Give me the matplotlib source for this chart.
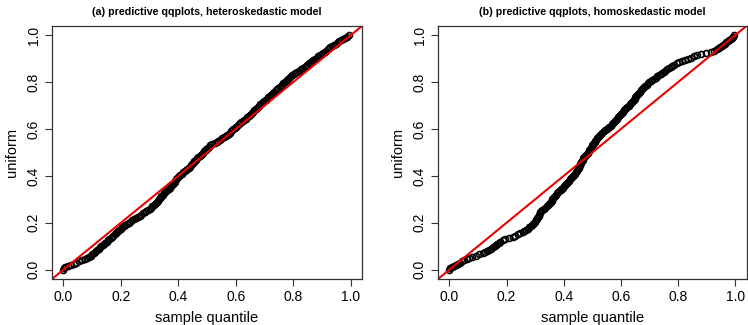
import numpy as np
import matplotlib
matplotlib.use("Agg")
import matplotlib.pyplot as plt

plt.rcParams['font.family'] = ['Liberation Sans', 'DejaVu Sans']

# uniform quantile levels (y axis), shared by both panels
unif = [0.000, 0.005, 0.010, 0.015, 0.020, 0.025, 0.030, 0.035, 0.040, 0.045,
        0.050, 0.055, 0.060, 0.065, 0.070, 0.075, 0.080, 0.085, 0.090, 0.095,
        0.100, 0.105, 0.110, 0.115, 0.120, 0.125, 0.130, 0.135, 0.140, 0.145,
        0.150, 0.155, 0.160, 0.165, 0.170, 0.175, 0.180, 0.185, 0.190, 0.195,
        0.200, 0.205, 0.210, 0.215, 0.220, 0.225, 0.230, 0.235, 0.240, 0.245,
        0.250, 0.255, 0.260, 0.265, 0.270, 0.275, 0.280, 0.285, 0.290, 0.295,
        0.300, 0.305, 0.310, 0.315, 0.320, 0.325, 0.330, 0.335, 0.340, 0.345,
        0.350, 0.355, 0.360, 0.365, 0.370, 0.375, 0.380, 0.385, 0.390, 0.395,
        0.400, 0.405, 0.410, 0.415, 0.420, 0.425, 0.430, 0.435, 0.440, 0.445,
        0.450, 0.455, 0.460, 0.465, 0.470, 0.475, 0.480, 0.485, 0.490, 0.495,
        0.500, 0.505, 0.510, 0.515, 0.520, 0.525, 0.530, 0.535, 0.540, 0.545,
        0.550, 0.555, 0.560, 0.565, 0.570, 0.575, 0.580, 0.585, 0.590, 0.595,
        0.600, 0.605, 0.610, 0.615, 0.620, 0.625, 0.630, 0.635, 0.640, 0.645,
        0.650, 0.655, 0.660, 0.665, 0.670, 0.675, 0.680, 0.685, 0.690, 0.695,
        0.700, 0.705, 0.710, 0.715, 0.720, 0.725, 0.730, 0.735, 0.740, 0.745,
        0.750, 0.755, 0.760, 0.765, 0.770, 0.775, 0.780, 0.785, 0.790, 0.795,
        0.800, 0.805, 0.810, 0.815, 0.820, 0.825, 0.830, 0.835, 0.840, 0.845,
        0.850, 0.855, 0.860, 0.865, 0.870, 0.875, 0.880, 0.885, 0.890, 0.895,
        0.900, 0.905, 0.910, 0.915, 0.920, 0.925, 0.930, 0.935, 0.940, 0.945,
        0.950, 0.955, 0.960, 0.965, 0.970, 0.975, 0.980, 0.985, 0.990, 0.995,
        1.000]

# panel (a): sample quantiles, heteroskedastic model
het_x = [0.000, 0.001, 0.005, 0.014, 0.025, 0.035, 0.045, 0.055, 0.065, 0.074,
         0.082, 0.089, 0.095, 0.100, 0.105, 0.109, 0.113, 0.118, 0.122, 0.127,
         0.132, 0.136, 0.140, 0.145, 0.150, 0.155, 0.160, 0.165, 0.170, 0.174,
         0.178, 0.183, 0.187, 0.191, 0.195, 0.200, 0.205, 0.210, 0.215, 0.221,
         0.227, 0.233, 0.240, 0.247, 0.253, 0.259, 0.265, 0.271, 0.277, 0.283,
         0.288, 0.294, 0.300, 0.305, 0.310, 0.314, 0.318, 0.322, 0.325, 0.329,
         0.332, 0.335, 0.338, 0.341, 0.345, 0.349, 0.353, 0.358, 0.362, 0.366,
         0.370, 0.374, 0.377, 0.381, 0.384, 0.387, 0.390, 0.393, 0.396, 0.399,
         0.402, 0.407, 0.412, 0.417, 0.422, 0.427, 0.432, 0.436, 0.440, 0.444,
         0.447, 0.450, 0.453, 0.456, 0.460, 0.465, 0.470, 0.475, 0.479, 0.483,
         0.487, 0.491, 0.495, 0.498, 0.502, 0.506, 0.510, 0.519, 0.528, 0.534,
         0.540, 0.547, 0.553, 0.559, 0.565, 0.570, 0.575, 0.580, 0.584, 0.588,
         0.592, 0.597, 0.601, 0.605, 0.610, 0.615, 0.620, 0.625, 0.630, 0.635,
         0.640, 0.645, 0.650, 0.654, 0.658, 0.661, 0.665, 0.669, 0.673, 0.676,
         0.680, 0.685, 0.690, 0.695, 0.700, 0.704, 0.709, 0.713, 0.718, 0.722,
         0.727, 0.731, 0.735, 0.739, 0.744, 0.748, 0.753, 0.757, 0.762, 0.766,
         0.770, 0.774, 0.778, 0.782, 0.786, 0.791, 0.796, 0.802, 0.808, 0.815,
         0.822, 0.828, 0.835, 0.840, 0.845, 0.850, 0.856, 0.861, 0.866, 0.871,
         0.877, 0.882, 0.888, 0.894, 0.900, 0.905, 0.910, 0.915, 0.920, 0.925,
         0.930, 0.935, 0.941, 0.948, 0.955, 0.961, 0.968, 0.975, 0.982, 0.989,
         0.995]

# panel (b): sample quantiles, homoskedastic model
hom_x = [0.000, 0.003, 0.008, 0.015, 0.022, 0.030, 0.038, 0.045, 0.052, 0.060,
         0.068, 0.080, 0.092, 0.105, 0.118, 0.125, 0.132, 0.138, 0.145, 0.152,
         0.158, 0.163, 0.168, 0.173, 0.178, 0.186, 0.195, 0.208, 0.222, 0.231,
         0.240, 0.248, 0.256, 0.262, 0.268, 0.274, 0.280, 0.285, 0.290, 0.294,
         0.297, 0.300, 0.303, 0.306, 0.308, 0.310, 0.312, 0.314, 0.316, 0.318,
         0.320, 0.325, 0.330, 0.336, 0.342, 0.346, 0.350, 0.353, 0.355, 0.358,
         0.360, 0.363, 0.366, 0.370, 0.373, 0.377, 0.381, 0.385, 0.389, 0.392,
         0.396, 0.400, 0.403, 0.407, 0.410, 0.414, 0.417, 0.421, 0.425, 0.429,
         0.433, 0.437, 0.440, 0.443, 0.446, 0.448, 0.450, 0.452, 0.454, 0.456,
         0.458, 0.460, 0.462, 0.464, 0.466, 0.468, 0.471, 0.474, 0.477, 0.481,
         0.484, 0.487, 0.490, 0.493, 0.495, 0.498, 0.500, 0.503, 0.505, 0.508,
         0.511, 0.514, 0.517, 0.520, 0.523, 0.526, 0.530, 0.535, 0.540, 0.545,
         0.550, 0.555, 0.560, 0.564, 0.568, 0.572, 0.576, 0.580, 0.584, 0.587,
         0.590, 0.594, 0.597, 0.601, 0.604, 0.608, 0.612, 0.616, 0.619, 0.623,
         0.627, 0.631, 0.635, 0.639, 0.642, 0.645, 0.648, 0.651, 0.654, 0.657,
         0.660, 0.663, 0.666, 0.670, 0.674, 0.678, 0.682, 0.686, 0.690, 0.695,
         0.700, 0.705, 0.710, 0.716, 0.722, 0.728, 0.734, 0.740, 0.745, 0.750,
         0.756, 0.762, 0.768, 0.774, 0.780, 0.787, 0.795, 0.805, 0.815, 0.825,
         0.835, 0.845, 0.855, 0.867, 0.880, 0.898, 0.915, 0.927, 0.938, 0.943,
         0.948, 0.953, 0.958, 0.963, 0.968, 0.974, 0.980, 0.985, 0.990, 0.994,
         0.997]

titles = ["(a) predictive qqplots, heteroskedastic model",
          "(b) predictive qqplots, homoskedastic model"]
ticks = [0.0, 0.2, 0.4, 0.6, 0.8, 1.0]
tick_labels = ["0.0", "0.2", "0.4", "0.6", "0.8", "1.0"]

fig = plt.figure(figsize=(7.48, 3.25), dpi=100)
ax1 = fig.add_axes([52/748, 46/325, 310/748, 253/325])
ax2 = fig.add_axes([438/748, 46/325, 308.5/748, 253/325])

for ax, xs, title in [(ax1, het_x, titles[0]), (ax2, hom_x, titles[1])]:
    ax.plot(xs, unif, linestyle='none', marker='o', markersize=4.3,
            markerfacecolor='none', markeredgecolor='black', markeredgewidth=1.2)
    ax.plot([-1, 2], [-1, 2], color='#ee0000', linewidth=1.5)
    ax.set_xlim(-0.04, 1.04)
    ax.set_ylim(-0.04, 1.04)
    ax.set_xticks(ticks)
    ax.set_xticklabels(tick_labels)
    ax.set_yticks(ticks)
    ax.set_yticklabels(tick_labels, rotation=90, va='center')
    ax.tick_params(direction='out', length=5, width=0.8, color='#333333',
                   labelsize=10, pad=3)
    for sp in ax.spines.values():
        sp.set_linewidth(0.9)
        sp.set_color('#333333')
    ax.set_title(title, fontsize=7.7, fontweight='bold', pad=8)
    ax.set_xlabel('sample quantile', fontsize=10.5, labelpad=5)
    ax.set_ylabel('uniform', fontsize=10.5, labelpad=6)

fig.savefig('out.png', dpi=100)
